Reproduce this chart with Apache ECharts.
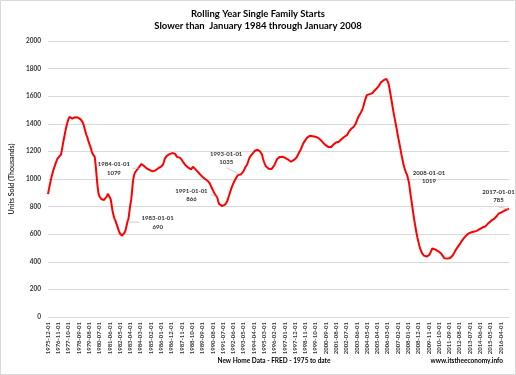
<!DOCTYPE html>
<html><head><meta charset="utf-8">
<script src="https://cdn.jsdelivr.net/npm/echarts@6/dist/echarts.min.js"></script>
<style>html,body{margin:0;padding:0;background:#fff}#c{width:516px;height:375px}</style>
</head><body><div id="c"></div>
<script>
// Monthly rolling-year single family starts (thousands), 1975-12 .. 2017-01
const startYear = 1975, startMonth = 12;
const values = [
 890,
 925,960,990,1020,1045,1070,1090,1110,1128,1145,1155,1162,
 1168,1178,1215,1255,1290,1325,1360,1390,1415,1435,1450,1457,
 1448,1438,1442,1446,1448,1447,1450,1445,1442,1438,1432,1425,
 1412,1395,1370,1345,1320,1305,1280,1260,1240,1220,1195,1180,
 1168,1160,1100,1020,950,896,875,862,855,853,850,848,
 848,855,875,893,896,880,855,815,770,740,715,700,
 680,660,640,620,605,595,589,592,600,612,630,660,
 690,710,760,810,850,920,990,1025,1045,1058,1065,1072,
 1079,1092,1102,1109,1106,1098,1092,1088,1080,1075,1072,1068,
 1065,1062,1058,1055,1052,1056,1063,1068,1072,1078,1082,1085,
 1090,1098,1105,1125,1148,1162,1168,1172,1176,1180,1182,1185,
 1188,1191,1190,1182,1170,1160,1157,1156,1155,1150,1140,1128,
 1118,1110,1101,1094,1088,1082,1076,1072,1070,1080,1089,1085,
 1075,1068,1060,1053,1045,1038,1030,1024,1017,1010,1005,1000,
 998,990,985,980,968,955,938,925,910,898,885,872,
 866,840,820,812,806,804,805,808,812,819,830,845,
 868,888,910,930,948,965,980,993,1005,1015,1028,1033,
 1035,1032,1030,1040,1055,1070,1085,1090,1105,1125,1145,1160,
 1165,1172,1185,1195,1203,1208,1210,1212,1208,1200,1198,1190,
 1175,1145,1125,1108,1092,1086,1080,1075,1073,1072,1072,1075,
 1085,1098,1112,1130,1145,1155,1158,1160,1162,1163,1162,1160,
 1156,1152,1150,1145,1140,1135,1128,1125,1128,1132,1138,1145,
 1150,1158,1170,1185,1198,1210,1225,1242,1258,1270,1280,1288,
 1298,1306,1312,1314,1313,1311,1310,1309,1308,1306,1303,1301,
 1298,1295,1288,1280,1272,1265,1259,1252,1245,1238,1235,1231,
 1230,1229,1232,1236,1248,1258,1262,1265,1266,1268,1270,1275,
 1282,1290,1295,1300,1306,1310,1312,1320,1332,1345,1356,1362,
 1368,1374,1379,1385,1400,1418,1435,1451,1462,1474,1487,1500,
 1520,1545,1570,1590,1608,1620,1621,1615,1609,1610,1622,1632,
 1640,1645,1652,1660,1668,1677,1688,1700,1708,1712,1716,1720,
 1728,1725,1715,1695,1665,1625,1585,1545,1505,1465,1430,1395,
 1360,1320,1285,1250,1215,1175,1145,1110,1085,1062,1045,1030,
 1019,975,925,875,830,780,735,690,650,612,578,548,
 520,497,478,463,452,445,440,436,438,442,447,452,
 465,482,497,500,494,490,486,482,478,473,468,463,
 457,445,432,425,424,423,423,424,426,428,432,438,
 447,460,472,485,496,505,515,525,534,545,556,566,
 573,580,588,595,602,606,610,612,614,616,618,619,
 620,623,626,630,634,638,643,647,650,652,655,658,
 662,670,680,688,693,698,703,707,711,715,722,732,
 742,750,753,756,758,760,765,770,774,777,779,782,
 785
];
const yTicks = {min: 0, max: 2000, step: 200};
const annotatedDates = ['1984-01-01','1983-01-01','1991-01-01','1993-01-01','2008-01-01','2017-01-01'];
const titleLines = ['Rolling Year Single Family Starts', 'Slower than  January 1984 through January 2008'];
const yName = 'Units Sold (Thousands)';
const footerLeft = 'New Home Data - FRED - 1975 to date';
const footerRight = 'www.itstheeconomy.info';

// build category labels (monthly)
const categories = [];
for (let k = 0; k < values.length; k++) {
  const m0 = (startMonth - 1) + k;
  const y = startYear + Math.floor(m0 / 12);
  const m = (m0 % 12) + 1;
  categories.push(y + '-' + (m < 10 ? '0' + m : m) + '-01');
}

const FONT = 'Lato';
const chart = echarts.init(document.getElementById('c'), null, {renderer: 'canvas'});
chart.setOption({
  animation: false,
  backgroundColor: '#ffffff',
  grid: {left: 41.7, right: 7, top: 41, bottom: 58, containLabel: false},
  xAxis: {
    type: 'category', data: categories, boundaryGap: false,
    axisLine: {lineStyle: {color: '#d9d9d9'}},
    axisTick: {show: false},
    axisLabel: {interval: 10, rotate: 90, fontSize: 6, fontFamily: FONT, color: '#333333', margin: 5, fontWeight: 'bold'},
    splitLine: {show: false}
  },
  yAxis: {
    type: 'value', min: yTicks.min, max: yTicks.max, interval: yTicks.step,
    name: yName, nameLocation: 'middle', nameGap: 24, nameRotate: 90,
    nameTextStyle: {fontSize: 7, fontFamily: FONT, fontWeight: 'bold', color: '#333333'},
    axisLine: {show: false}, axisTick: {show: false},
    axisLabel: {fontSize: 6.5, fontFamily: FONT, color: '#333333', margin: 7, fontWeight: 'bold',
      formatter: v => String(v)},
    splitLine: {lineStyle: {color: '#d9d9d9', width: 1}}
  },
  series: [{
    type: 'line', data: values, showSymbol: false, symbol: 'none',
    lineStyle: {color: '#ff0000', width: 2}, smooth: false
  }]
});

// annotation layout (styling offsets only)
const annStyle = {
  '1984-01-01': {dx: -24.8, dy: 0.2, lead: [[-6.3, 0.2], [0, 0]]},
  '1983-01-01': {dx: 30.2, dy: 0.5, lead: [[1, 0.3], [11.7, 0.3]]},
  '1991-01-01': {dx: -25.8, dy: -2.5, lead: [[-6.6, -3.2], [-1, -0.8]]},
  '1993-01-01': {dx: -13.5, dy: -16.2, lead: [[-13.3, -6.5], [-1, -0.2]]},
  '2008-01-01': {dx: 21, dy: 0.6, lead: null},
  '2017-01-01': {dx: -10.5, dy: -12.5, lead: [[-10.7, -2], [-0.7, 0.6]]}
};
const g = [];
annotatedDates.forEach(d => {
  const idx = categories.indexOf(d);
  const v = values[idx];
  const p = chart.convertToPixel({seriesIndex: 0}, [idx, v]);
  const s = annStyle[d];
  if (s.lead) {
    g.push({type: 'line', silent: true, z: 5,
      shape: {x1: p[0] + s.lead[0][0], y1: p[1] + s.lead[0][1], x2: p[0] + s.lead[1][0], y2: p[1] + s.lead[1][1]},
      style: {stroke: '#bfbfbf', lineWidth: 0.8}});
  }
  g.push({type: 'text', z: 10, x: p[0] + s.dx, y: p[1] + s.dy,
    style: {text: d + '\n' + v, fontSize: 6, fontFamily: FONT, fontWeight: 'bold', fill: '#333333',
      align: 'center', verticalAlign: 'middle', lineHeight: 8.6}});
});
g.push({type: 'text', x: 258, y: 14, style: {text: titleLines[0], fontSize: 9.5, fontFamily: FONT, fontWeight: 'bold', fill: '#000', align: 'center', verticalAlign: 'middle'}});
g.push({type: 'text', x: 258, y: 25.5, style: {text: titleLines[1], fontSize: 9.5, fontFamily: FONT, fontWeight: 'bold', fill: '#000', align: 'center', verticalAlign: 'middle'}});
g.push({type: 'text', x: 274, y: 361, style: {text: footerLeft, fontSize: 6.5, fontFamily: FONT, fontWeight: 'bold', fill: '#000', align: 'center', verticalAlign: 'middle'}});
g.push({type: 'text', x: 503, y: 361, style: {text: footerRight, fontSize: 6.5, fontFamily: FONT, fontWeight: 'bold', fill: '#000', align: 'right', verticalAlign: 'middle'}});
g.push({type: 'rect', silent: true, z: -1, shape: {x: 0.5, y: 0.5, width: 515, height: 374}, style: {fill: 'none', stroke: '#d9d9d9', lineWidth: 1}});
chart.setOption({graphic: g});
</script>
</body></html>
